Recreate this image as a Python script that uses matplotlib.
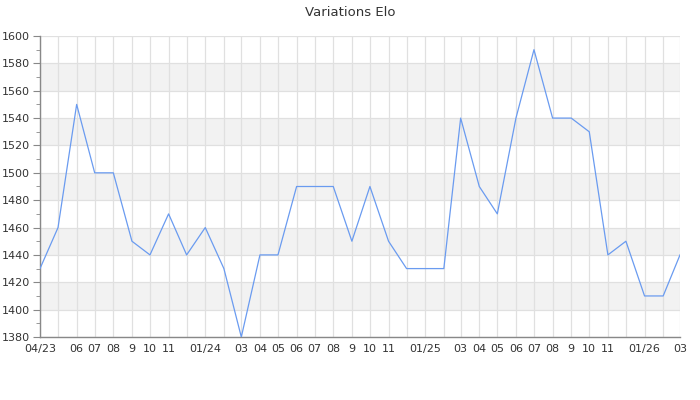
import matplotlib
matplotlib.use("Agg")
import matplotlib.pyplot as plt
import matplotlib.dates as mdates
from matplotlib.ticker import MultipleLocator
import datetime as dt

# ---- data ----
months = [dt.date(2023 + (3 + i) // 12, (3 + i) % 12 + 1, 1) for i in range(36)]
elo = [1430, 1460, 1550, 1500, 1500, 1450, 1440, 1470, 1440,
       1460, 1430, 1380, 1440, 1440, 1490, 1490, 1490, 1450, 1490, 1450, 1430,
       1430, 1430, 1540, 1490, 1470, 1540, 1590, 1540, 1540, 1530, 1440, 1450,
       1410, 1410, 1440]
tick_labels = ["04/23", "", "06", "07", "08", "9", "10", "11", "",
               "01/24", "", "03", "04", "05", "06", "07", "08", "9", "10", "11", "",
               "01/25", "", "03", "04", "05", "06", "07", "08", "9", "10", "11", "",
               "01/26", "", "03"]
title = "Variations Elo"

fig = plt.figure(figsize=(7, 4), dpi=100)
ax = fig.add_axes([40/700, 63/400, 640/700, 301/400])

ymin, ymax = 1380, 1600
# alternating bands
for lo in range(1400, 1600, 40):
    ax.axhspan(lo, lo + 20, color="#f2f2f2", zorder=0, lw=0)

ax.plot(months, elo, color="#6a9bf0", lw=0.9, zorder=3)

ax.set_xlim(months[0], months[-1])
ax.set_ylim(ymin, ymax)
ax.set_xticks(months)
ax.set_xticklabels(tick_labels)
ax.yaxis.set_major_locator(MultipleLocator(20))
ax.yaxis.set_minor_locator(MultipleLocator(10))

ax.grid(True, which="major", color="#e0e0e0", lw=0.9, zorder=1)
ax.set_axisbelow(True)

for s in ["top", "right"]:
    ax.spines[s].set_visible(False)
for s in ["left", "bottom"]:
    ax.spines[s].set_color("#888888")
    ax.spines[s].set_linewidth(1)

ax.tick_params(axis="x", length=0, pad=5, labelsize=8, labelcolor="#333333")
ax.tick_params(axis="y", which="major", length=5, color="#888888", labelsize=8,
               labelcolor="#333333", pad=2)
ax.tick_params(axis="y", which="minor", length=3, color="#888888")

fig.suptitle(title, y=0.985, fontsize=9.5, color="#333333")

fig.savefig("out.png", dpi=100)
